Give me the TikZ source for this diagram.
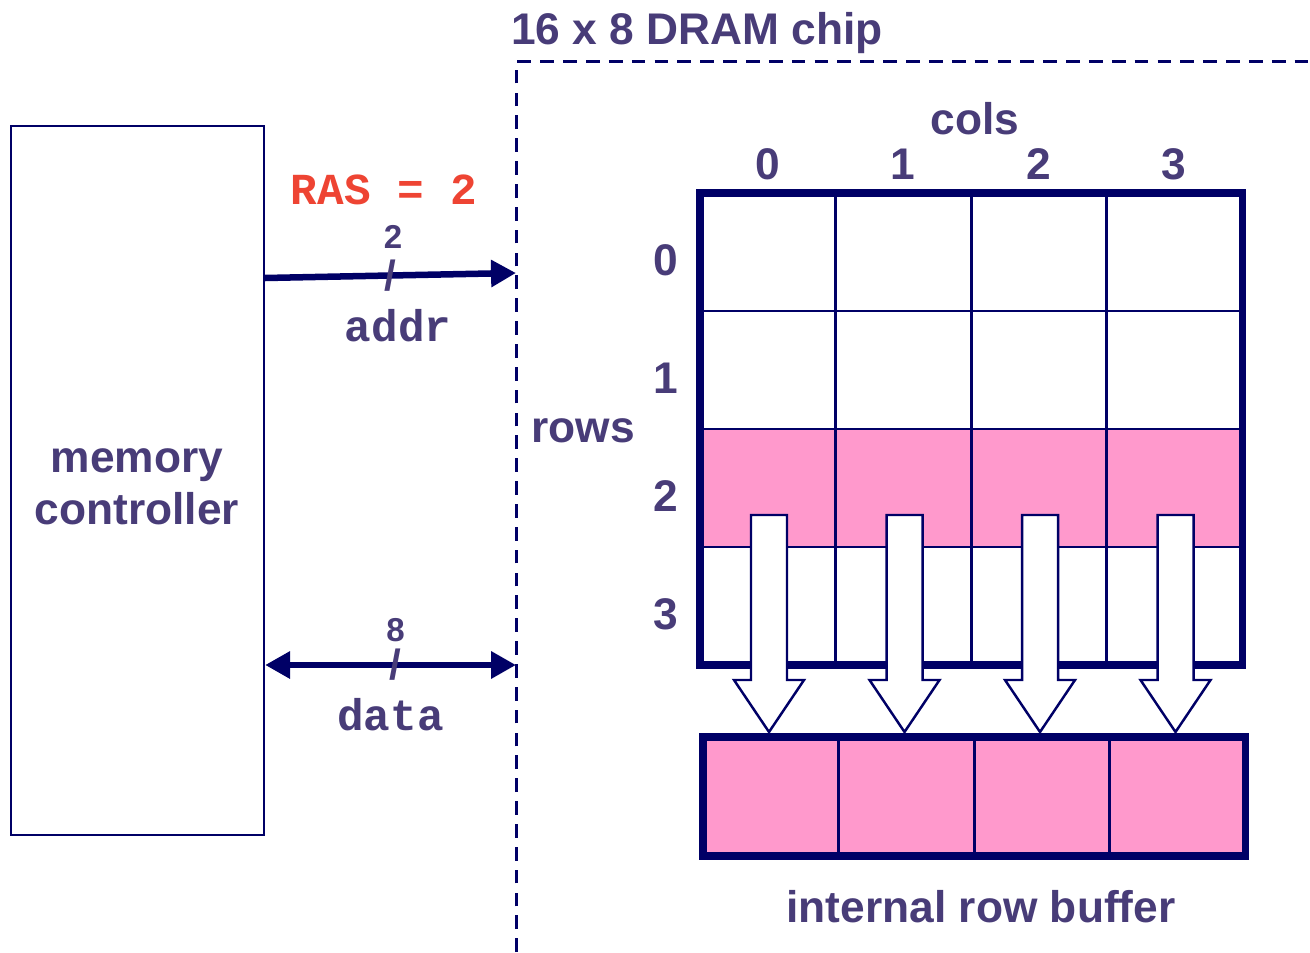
\documentclass[tikz,border=0pt]{standalone}
\usepackage{fontspec}
\setmainfont{Liberation Sans}
\setmonofont{Liberation Mono}
\usetikzlibrary{arrows.meta}
\definecolor{chipnavy}{RGB}{0,0,102}
\definecolor{labelpurple}{RGB}{72,60,120}
\definecolor{rowpink}{RGB}{255,153,204}
\definecolor{rasred}{RGB}{238,68,51}

\begin{document}
\begin{tikzpicture}[x=0.01cm, y=-0.01cm,
  lbl/.style={text=labelpurple, font=\fontsize{12.6}{14.8}\selectfont\bfseries, inner sep=0pt},
  small/.style={text=labelpurple, font=\fontsize{9.4}{11}\selectfont\bfseries, inner sep=0pt},
  slash/.style={text=labelpurple, font=\fontsize{12}{14}\selectfont\bfseries, inner sep=0pt},
  mono/.style={text=labelpurple, font=\fontsize{12.6}{15}\selectfont\ttfamily\bfseries, inner sep=0pt},
  bus/.style={chipnavy, line width=1.85pt},
  frame/.style={draw=chipnavy, line width=2pt},
  cellline/.style={chipnavy, line width=0.85pt},
  blockarrow/.style={draw=chipnavy, fill=white, line width=0.7pt, line join=miter},
  bustip/.tip={Triangle[length=7.1pt, width=7.4pt]}]
\useasboundingbox (0,0) rectangle (1310,952);

% chip boundary
\node[lbl] (chiptitle) at (697,33) {16 x 8 DRAM chip};
\coordinate (chipcorner) at (516,62);
\draw[chipnavy, line width=0.85pt, dash pattern=on 3.9pt off 2.6pt]
  (516,952) -- (chipcorner) -- (1310,62);

% memory controller
\node[draw=chipnavy, line width=0.6pt, minimum width=2.53cm, minimum height=7.09cm,
  lbl, align=center] (mc) at (137.5,480.5) {};
\node[lbl, align=center] (mctext) at (137,487) {memory\\controller};

% address and data buses
\coordinate (addrin) at (516,273);
\coordinate (datain) at (516,665);
\node[mono, text=rasred] (ras) at (384,190) {RAS = 2};
\draw[bus, -{bustip}] (mc.east |- 0,278) -- (addrin)
  node[pos=0.5, slash] {/}
  node[pos=0.51, small, yshift=11pt] {2}
  node[pos=0.53, mono, yshift=-14.2pt] {addr};
\draw[bus, {bustip}-{bustip}] (mc.east |- datain) -- (datain)
  node[pos=0.52, slash] {/}
  node[pos=0.52, small, yshift=10pt] {8}
  node[pos=0.5, mono, yshift=-14pt] {data};

% supercell array
\fill[rowpink] (700,429) rectangle (1242,547);
\foreach \i in {1,2,3} {
  \draw[cellline] ({700+135.5*\i},193) -- ({700+135.5*\i},665);
  \draw[cellline] (700,{193+118*\i}) -- (1242,{193+118*\i});
}
\draw[frame] (700,193) rectangle (1242,665);
\node[lbl] (cols) at (975,119) {cols};
\node[lbl] (rows) at (583,431) {rows};
\foreach \i in {0,...,3} {
  \node[lbl] (col\i) at ({767.75+135.5*\i},164) {\i};
  \node[lbl] (row\i) at (666,{260+118*\i}) {\i};
}

% internal row buffer
\fill[rowpink] (703,737) rectangle (1245,856);
\foreach \i in {1,2,3}
  \draw[cellline] ({703+135.5*\i},737) -- ({703+135.5*\i},856);
\draw[frame] (703,737) rectangle (1245,856);
\node[lbl] (buflabel) at (981,907) {internal row buffer};

% row 2 copied into the buffer
\foreach \i in {0,...,3} {
  \pgfmathsetmacro{\cx}{769+135.5*\i}
  \draw[blockarrow] (\cx-18,515) -- (\cx+18,515) -- (\cx+18,680) -- (\cx+35,680)
    -- (\cx,732) -- (\cx-35,680) -- (\cx-18,680) -- cycle;
}
\end{tikzpicture}
\end{document}
